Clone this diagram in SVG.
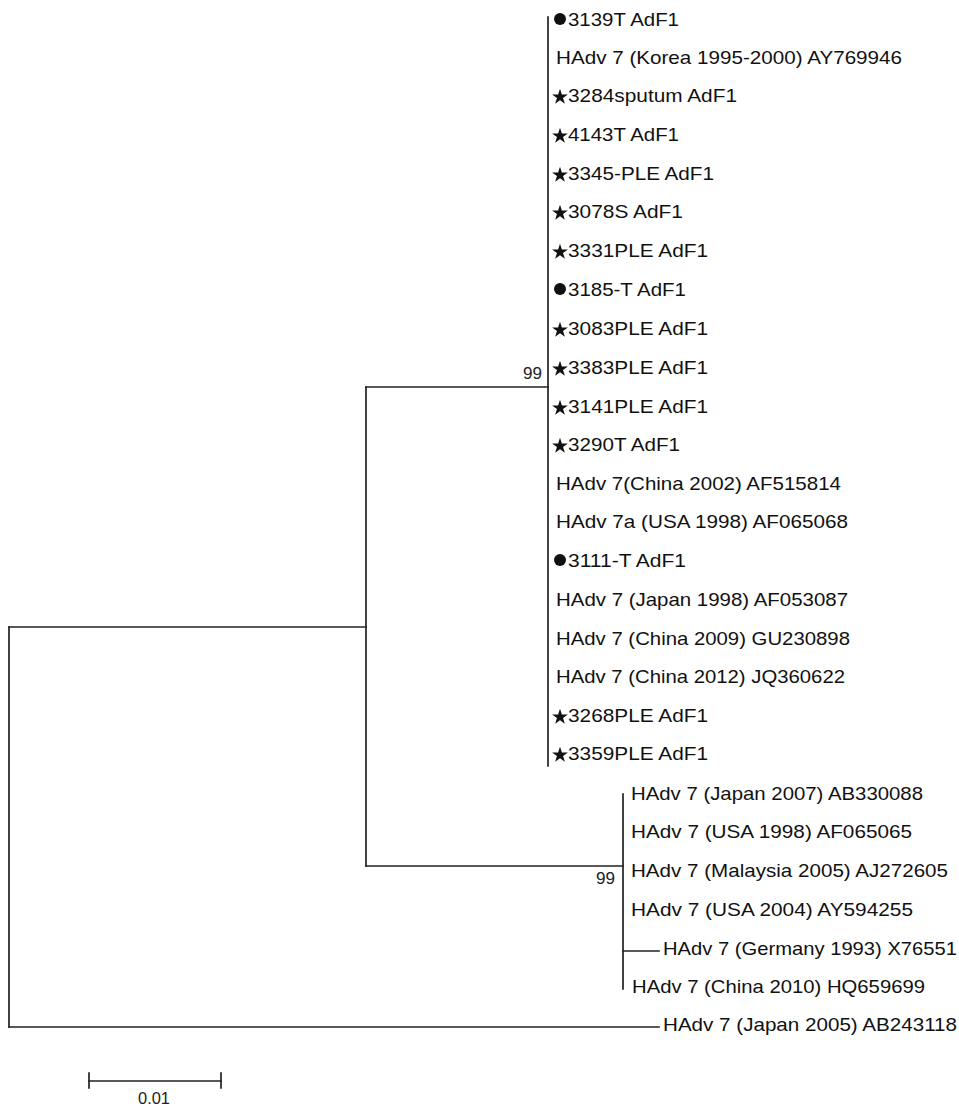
<svg xmlns="http://www.w3.org/2000/svg" xmlns:xlink="http://www.w3.org/1999/xlink" width="959" height="1106" viewBox="0 0 959 1106">
<style>
.lbl{font-family:"Liberation Sans",Arial,sans-serif;font-size:18.5px;fill:#111}
.bs{font-family:"Liberation Sans",Arial,sans-serif;font-size:16px;fill:#222}
.br{stroke:#222;stroke-width:1.7;fill:none;stroke-linecap:square}
.mk{fill:#111}
</style>
<defs>
<polygon id="star" class="mk" points="0,-8.3 1.87,-2.57 7.9,-2.57 3.02,0.98 4.88,6.72 0,3.17 -4.88,6.72 -3.02,0.98 -7.9,-2.57 -1.87,-2.57"/>
<circle id="dot" class="mk" r="6" cx="0" cy="0"/>
</defs>
<rect width="959" height="1106" fill="#fff"/>
<g id="connectors" class="br">
<line x1="9" y1="627" x2="366" y2="627"/>
<line x1="9" y1="627" x2="9" y2="1027"/>
<line x1="9" y1="1027" x2="659" y2="1027"/>
<line x1="366" y1="387" x2="366" y2="866"/>
<line x1="366" y1="387" x2="548" y2="387"/>
<line x1="548" y1="17" x2="548" y2="766"/>
<line x1="366" y1="866" x2="623" y2="866"/>
<line x1="623" y1="794" x2="623" y2="989"/>
<line x1="623" y1="951" x2="659" y2="951"/>
</g>
<g id="bootstrap-top"><text class="bs" x="523" y="379" textLength="19" lengthAdjust="spacingAndGlyphs">99</text></g>
<g id="bootstrap-bottom"><text class="bs" x="596" y="884" textLength="19" lengthAdjust="spacingAndGlyphs">99</text></g>
<g id="leaf-3139T"><use xlink:href="#dot" x="560" y="19"/><text class="lbl" x="568" y="26" textLength="111" lengthAdjust="spacingAndGlyphs">3139T AdF1</text></g>
<g id="leaf-AY769946"><text class="lbl" x="556" y="64" textLength="346" lengthAdjust="spacingAndGlyphs">HAdv 7 (Korea 1995-2000) AY769946</text></g>
<g id="leaf-3284"><use xlink:href="#star" x="560" y="97"/><text class="lbl" x="568" y="102" textLength="169" lengthAdjust="spacingAndGlyphs">3284sputum AdF1</text></g>
<g id="leaf-4143T"><use xlink:href="#star" x="560" y="136"/><text class="lbl" x="568" y="141" textLength="111" lengthAdjust="spacingAndGlyphs">4143T AdF1</text></g>
<g id="leaf-3345"><use xlink:href="#star" x="560" y="175"/><text class="lbl" x="568" y="180" textLength="146" lengthAdjust="spacingAndGlyphs">3345-PLE AdF1</text></g>
<g id="leaf-3078S"><use xlink:href="#star" x="560" y="213"/><text class="lbl" x="568" y="218" textLength="115" lengthAdjust="spacingAndGlyphs">3078S AdF1</text></g>
<g id="leaf-3331"><use xlink:href="#star" x="560" y="252"/><text class="lbl" x="568" y="257" textLength="140" lengthAdjust="spacingAndGlyphs">3331PLE AdF1</text></g>
<g id="leaf-3185"><use xlink:href="#dot" x="560" y="289"/><text class="lbl" x="568" y="296" textLength="118" lengthAdjust="spacingAndGlyphs">3185-T AdF1</text></g>
<g id="leaf-3083"><use xlink:href="#star" x="560" y="330"/><text class="lbl" x="568" y="335" textLength="140" lengthAdjust="spacingAndGlyphs">3083PLE AdF1</text></g>
<g id="leaf-3383"><use xlink:href="#star" x="560" y="369"/><text class="lbl" x="568" y="374" textLength="140" lengthAdjust="spacingAndGlyphs">3383PLE AdF1</text></g>
<g id="leaf-3141"><use xlink:href="#star" x="560" y="408"/><text class="lbl" x="568" y="413" textLength="140" lengthAdjust="spacingAndGlyphs">3141PLE AdF1</text></g>
<g id="leaf-3290T"><use xlink:href="#star" x="560" y="446"/><text class="lbl" x="568" y="451" textLength="112" lengthAdjust="spacingAndGlyphs">3290T AdF1</text></g>
<g id="leaf-AF515814"><text class="lbl" x="556" y="490" textLength="285" lengthAdjust="spacingAndGlyphs">HAdv 7(China 2002) AF515814</text></g>
<g id="leaf-AF065068"><text class="lbl" x="556" y="528" textLength="292" lengthAdjust="spacingAndGlyphs">HAdv 7a (USA 1998) AF065068</text></g>
<g id="leaf-3111"><use xlink:href="#dot" x="560" y="560"/><text class="lbl" x="568" y="567" textLength="118" lengthAdjust="spacingAndGlyphs">3111-T AdF1</text></g>
<g id="leaf-AF053087"><text class="lbl" x="556" y="606" textLength="292" lengthAdjust="spacingAndGlyphs">HAdv 7 (Japan 1998) AF053087</text></g>
<g id="leaf-GU230898"><text class="lbl" x="556" y="645" textLength="294" lengthAdjust="spacingAndGlyphs">HAdv 7 (China 2009) GU230898</text></g>
<g id="leaf-JQ360622"><text class="lbl" x="556" y="683" textLength="289" lengthAdjust="spacingAndGlyphs">HAdv 7 (China 2012) JQ360622</text></g>
<g id="leaf-3268"><use xlink:href="#star" x="560" y="717"/><text class="lbl" x="568" y="722" textLength="140" lengthAdjust="spacingAndGlyphs">3268PLE AdF1</text></g>
<g id="leaf-3359"><use xlink:href="#star" x="560" y="755"/><text class="lbl" x="568" y="760" textLength="140" lengthAdjust="spacingAndGlyphs">3359PLE AdF1</text></g>
<g id="leaf-AB330088"><text class="lbl" x="631" y="800" textLength="292" lengthAdjust="spacingAndGlyphs">HAdv 7 (Japan 2007) AB330088</text></g>
<g id="leaf-AF065065"><text class="lbl" x="631" y="838" textLength="281" lengthAdjust="spacingAndGlyphs">HAdv 7 (USA 1998) AF065065</text></g>
<g id="leaf-AJ272605"><text class="lbl" x="631" y="877" textLength="317" lengthAdjust="spacingAndGlyphs">HAdv 7 (Malaysia 2005) AJ272605</text></g>
<g id="leaf-AY594255"><text class="lbl" x="631" y="916" textLength="282" lengthAdjust="spacingAndGlyphs">HAdv 7 (USA 2004) AY594255</text></g>
<g id="leaf-X76551"><text class="lbl" x="663" y="955" textLength="294" lengthAdjust="spacingAndGlyphs">HAdv 7 (Germany 1993) X76551</text></g>
<g id="leaf-HQ659699"><text class="lbl" x="632" y="993" textLength="293" lengthAdjust="spacingAndGlyphs">HAdv 7 (China 2010) HQ659699</text></g>
<g id="leaf-AB243118"><text class="lbl" x="663" y="1031" textLength="294" lengthAdjust="spacingAndGlyphs">HAdv 7 (Japan 2005) AB243118</text></g>
<g id="scale-bar">
<line class="br" x1="89" y1="1081" x2="221" y2="1081"/>
<line class="br" x1="89" y1="1073" x2="89" y2="1088"/>
<line class="br" x1="221" y1="1073" x2="221" y2="1088"/>
<text class="bs" x="138" y="1104" textLength="32" lengthAdjust="spacingAndGlyphs">0.01</text>
</g>
</svg>
